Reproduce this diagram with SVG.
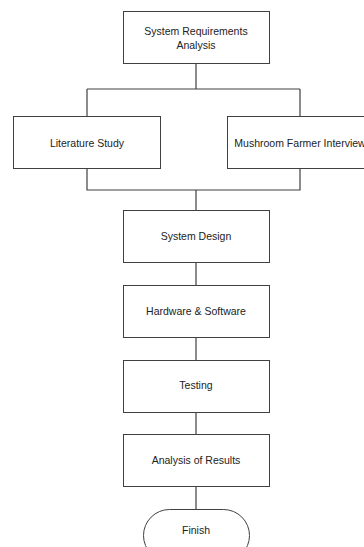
<svg xmlns="http://www.w3.org/2000/svg" width="364" height="547" viewBox="0 0 364 547">
<style>
.box{fill:#fff;stroke:#404040;stroke-width:1}
.ln{fill:none;stroke:#404040;stroke-width:1.2}
text{font-family:"Liberation Sans",Arial,sans-serif;font-size:10.5px;fill:#222;text-anchor:middle}
</style>
<rect width="364" height="547" fill="#fff"/>
<g id="connectors">
<path class="ln" d="M196 63V89M87 89H300M87 89V116M300 89V116"/>
<path class="ln" d="M87 168V190H300V168M196 190V210"/>
<path class="ln" d="M196 262V285M196 337V360M196 412V434M196 487V509"/>
</g>
<g id="req"><rect class="box" x="123.5" y="11.5" width="146" height="52"/><text x="196" y="35">System Requirements</text><text x="196" y="49">Analysis</text></g>
<g id="lit"><rect class="box" x="13.5" y="116.5" width="147" height="52"/><text x="87" y="147">Literature Study</text></g>
<g id="farmer"><rect class="box" x="227.5" y="116.5" width="147" height="52"/><text x="300" y="147">Mushroom Farmer Interview</text></g>
<g id="design"><rect class="box" x="123.5" y="210.5" width="146" height="52"/><text x="196" y="240">System Design</text></g>
<g id="hw"><rect class="box" x="123.5" y="285.5" width="146" height="52"/><text x="196" y="315">Hardware &amp; Software</text></g>
<g id="test"><rect class="box" x="123.5" y="360.5" width="146" height="52"/><text x="196" y="389">Testing</text></g>
<g id="analysis"><rect class="box" x="123.5" y="434.5" width="146" height="52"/><text x="196" y="464">Analysis of Results</text></g>
<g id="finish"><rect class="box" x="143.5" y="509.5" width="106" height="52" rx="26" ry="26"/><text x="196" y="534">Finish</text></g>
</svg>
